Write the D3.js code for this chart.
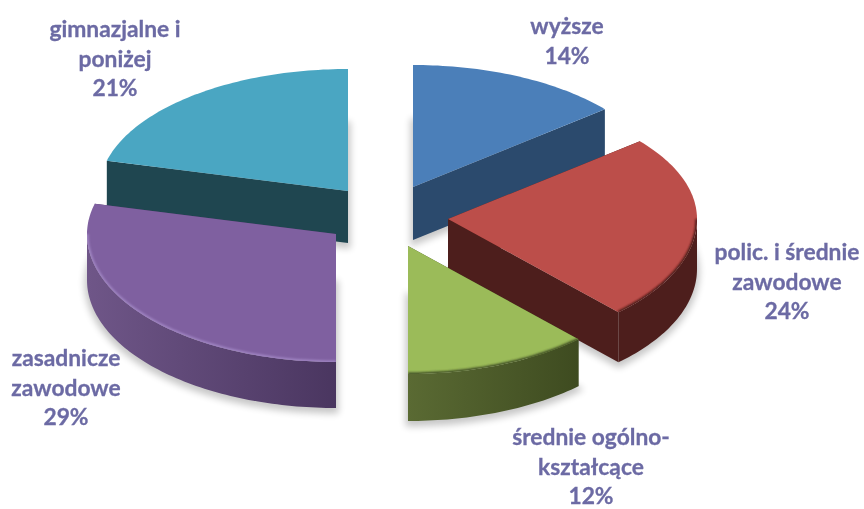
<!DOCTYPE html>
<html>
<head>
<meta charset="utf-8">
<script src="https://cdn.jsdelivr.net/npm/d3@7"></script>
<style>
body { margin: 0; background: #fff; }
text { font-family: Lato, "Open Sans", sans-serif; font-weight: 700; font-size: 22.8px; fill: #6c6ba4; stroke: #6c6ba4; stroke-width: 0.3px; text-anchor: middle; }
</style>
</head>
<body>
<script>
var categories = ["wyższe", "polic. i średnie zawodowe", "średnie ogólno-kształcące", "zasadnicze zawodowe", "gimnazjalne i poniżej"];
var values = [14, 24, 12, 29, 21];
var labelLines = [["wyższe", "14%"], ["polic. i średnie", "zawodowe", "24%"], ["średnie ogólno-", "kształcące", "12%"], ["zasadnicze", "zawodowe", "29%"], ["gimnazjalne i", "poniżej", "21%"]];

var topColors = ["#4b7fb9", "#bc4e4a", "#9bbb59", "#7f60a0", "#4aa6c2"];
var wallLight = ["#2b4a6d", "#4d1e1c", "#5a6a33", "#6f5688", "#1f4650"];
var wallDark = ["#2b4a6d", "#4d1e1c", "#3e4b20", "#4a3660", "#1f4650"];
var bevelColors = ["#2b4a6d", "#3d1513", "#3a4620", "#a186c4", "#1f4650"];

// exploded layout, by hand from the picture
var explodeX = [33, 68, 28, -44, -32];
var explodeY = [-28, 4, 31, 19, -24];
var depths = [53, 50, 47, 46, 52];
var labelX = [567, 787, 591, 66, 115];
var labelY = [34, 260, 445, 366, 37];
var lineHeight = 29.5;

var width = 864, height = 509;
var cx = 380, cy = 215, rx = 249, ryBack = 122, ryFront = 128;

var svg = d3.select("body").append("svg")
    .attr("width", width)
    .attr("height", height)
    .style("display", "block");

var defs = svg.append("defs");
defs.append("filter").attr("id", "shadowBlur")
    .attr("x", "-10%").attr("y", "-10%").attr("width", "120%").attr("height", "120%")
    .append("feGaussianBlur").attr("stdDeviation", 3.5);
defs.append("filter").attr("id", "bevelBlur")
    .attr("x", "-10%").attr("y", "-10%").attr("width", "120%").attr("height", "120%")
    .append("feGaussianBlur").attr("stdDeviation", 1);
defs.append("filter").attr("id", "textBlur")
    .append("feGaussianBlur").attr("stdDeviation", 0.35);

var slices = d3.pie().sort(null)(values).map(function(d, i) {
    d.i = i;
    return d;
});

function rim(a) {
    var c = Math.cos(a);
    return [rx * Math.sin(a), -(c > 0 ? ryBack : ryFront) * c];
}

function arcPoints(a0, a1) {
    var n = Math.max(2, Math.ceil((a1 - a0) / 0.02));
    return d3.range(n + 1).map(function(k) {
        return rim(a0 + (a1 - a0) * k / n);
    });
}

var line = d3.line();

function sectorPath(d) {
    return line([[0, 0]].concat(arcPoints(d.startAngle, d.endAngle))) + "Z";
}

function radialWall(a, depth) {
    var p = rim(a);
    return line([[0, 0], p, [p[0], p[1] + depth], [0, depth]]) + "Z";
}

function frontRange(d) {
    return [Math.max(d.startAngle, Math.PI / 2), Math.min(d.endAngle, Math.PI * 1.5)];
}

function moved(d) {
    return "translate(" + (cx + explodeX[d.i]) + "," + (cy + explodeY[d.i]) + ")";
}

// soft shadows go under everything
svg.append("g").selectAll("path")
    .data(slices)
    .enter().append("path")
    .attr("transform", function(d) { return moved(d) + " translate(0," + (depths[d.i] + 3) + ")"; })
    .attr("d", sectorPath)
    .attr("fill", "#000")
    .attr("stroke", "#000")
    .attr("stroke-width", 5)
    .attr("opacity", 0.22)
    .attr("filter", "url(#shadowBlur)");

// back slices first
var order = slices.slice().sort(function(a, b) { return explodeY[a.i] - explodeY[b.i]; });

var slice = svg.append("g").selectAll("g")
    .data(order)
    .enter().append("g")
    .attr("transform", moved);

slice.each(function(d) {
    var g = d3.select(this);
    var depth = depths[d.i];

    g.append("path").attr("d", radialWall(d.startAngle, depth)).attr("fill", wallDark[d.i]);
    g.append("path").attr("d", radialWall(d.endAngle, depth)).attr("fill", wallDark[d.i]);

    var range = frontRange(d);
    if (range[1] > range[0]) {
        var pts = arcPoints(range[0], range[1]);
        var lower = pts.map(function(p) { return [p[0], p[1] + depth]; }).reverse();
        var xs = d3.extent(pts, function(p) { return p[0]; });

        var grad = defs.append("linearGradient")
            .attr("id", "wall" + d.i)
            .attr("gradientUnits", "userSpaceOnUse")
            .attr("x1", xs[0]).attr("x2", xs[1])
            .attr("y1", 0).attr("y2", 0);
        grad.append("stop").attr("offset", 0).attr("stop-color", wallLight[d.i]);
        grad.append("stop").attr("offset", 1).attr("stop-color", wallDark[d.i]);

        g.append("path")
            .attr("d", line(pts.concat(lower)) + "Z")
            .attr("fill", "url(#wall" + d.i + ")");
    }

    g.append("path").attr("d", sectorPath(d)).attr("fill", topColors[d.i]);

    if (range[1] > range[0]) {
        var clipId = "top" + d.i;
        defs.append("clipPath").attr("id", clipId)
            .append("path").attr("d", sectorPath(d));
        g.append("g").attr("clip-path", "url(#" + clipId + ")")
            .append("path")
            .attr("d", line(arcPoints(range[0], range[1])))
            .attr("fill", "none")
            .attr("stroke", bevelColors[d.i])
            .attr("stroke-width", 3)
            .attr("filter", "url(#bevelBlur)");
    }
});

svg.append("g").attr("filter", "url(#textBlur)").selectAll("text")
    .data(labelLines)
    .enter().append("text")
    .attr("y", function(d, i) { return labelY[i]; })
    .each(function(d, i) {
        d3.select(this).selectAll("tspan")
            .data(d)
            .enter().append("tspan")
            .attr("x", labelX[i])
            .attr("dy", function(t, k) { return k ? lineHeight : 0; })
            .text(function(t) { return t; });
    });
</script>
</body>
</html>
